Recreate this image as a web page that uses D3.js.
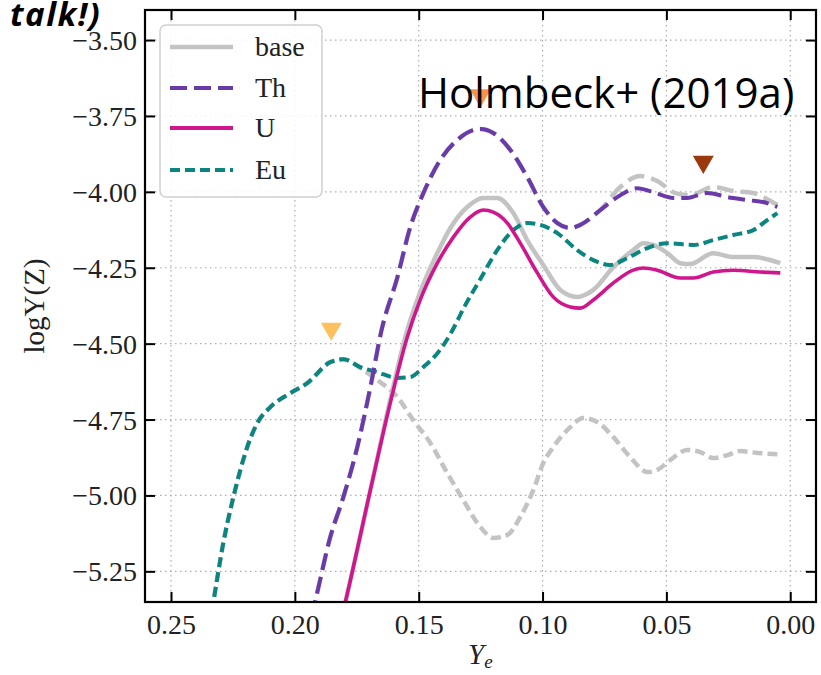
<!DOCTYPE html>
<html><head><meta charset="utf-8">
<script src="https://cdn.jsdelivr.net/npm/d3@7"></script>
<style>body{margin:0;background:#fff}svg{display:block}</style>
</head><body>
<svg id="chart" width="821" height="675"></svg>
<script>
// ---- data ----
const xTicks = [0.25, 0.20, 0.15, 0.10, 0.05, 0.00];
const yTicks = [-3.50, -3.75, -4.00, -4.25, -4.50, -4.75, -5.00, -5.25];

const ye_Eu = [0.2355,0.2329,0.2289,0.2248,0.2220,0.2200,0.2152,0.2099,0.2018,0.1950,0.1857,0.1804,0.1736,0.1667,0.1586,0.1534,0.1481,0.1421,0.1372,0.1312,0.1251,0.1183,0.1118,0.1062,0.1009,0.0940,0.0860,0.0795,0.0727,0.0658,0.0577,0.0496,0.0391,0.0311,0.0230,0.0149,0.0093,0.0052];
const logY_Eu = [-5.48,-5.351,-5.157,-5.005,-4.916,-4.860,-4.762,-4.709,-4.663,-4.630,-4.561,-4.551,-4.577,-4.594,-4.613,-4.610,-4.577,-4.528,-4.468,-4.373,-4.287,-4.192,-4.126,-4.103,-4.109,-4.136,-4.192,-4.225,-4.241,-4.218,-4.185,-4.169,-4.175,-4.159,-4.142,-4.126,-4.093,-4.070];

const ye_baseEu = [0.2355,0.2329,0.2289,0.2248,0.2220,0.2200,0.2152,0.2099,0.2018,0.1950,0.1857,0.1804,0.1736,0.1667,0.1586,0.1522,0.1453,0.1385,0.1320,0.1251,0.1199,0.1142,0.1090,0.1037,0.0997,0.0957,0.0888,0.0836,0.0779,0.0714,0.0646,0.0577,0.0537,0.0484,0.0416,0.0363,0.0311,0.0254,0.0202,0.0133,0.0052];
const logY_baseEu = [-5.48,-5.351,-5.157,-5.005,-4.916,-4.860,-4.762,-4.709,-4.663,-4.630,-4.561,-4.551,-4.580,-4.620,-4.676,-4.752,-4.827,-4.926,-5.015,-5.104,-5.140,-5.130,-5.071,-4.982,-4.893,-4.841,-4.775,-4.745,-4.758,-4.808,-4.874,-4.923,-4.916,-4.883,-4.850,-4.857,-4.877,-4.867,-4.854,-4.860,-4.864];

const ye_Th = [0.1958,0.1917,0.1857,0.1804,0.1748,0.1695,0.1651,0.1586,0.1534,0.1481,0.1413,0.1344,0.1251,0.1199,0.1130,0.1062,0.0997,0.0940,0.0888,0.0848,0.0767,0.0686,0.0618,0.0553,0.0472,0.0416,0.0335,0.0254,0.0173,0.0093,0.0052];
const logY_Th = [-5.476,-5.345,-5.137,-5.005,-4.841,-4.643,-4.459,-4.281,-4.116,-4.004,-3.895,-3.829,-3.793,-3.806,-3.862,-3.951,-4.050,-4.103,-4.119,-4.109,-4.060,-4.011,-3.988,-4.001,-4.020,-4.020,-4.004,-4.017,-4.027,-4.037,-4.050];

const ye_baseTh = [0.1958,0.1917,0.1857,0.1804,0.1748,0.1695,0.1651,0.1586,0.1534,0.1481,0.1413,0.1344,0.1251,0.1199,0.1130,0.1062,0.0997,0.0940,0.0888,0.0848,0.0767,0.0686,0.0605,0.0537,0.0464,0.0404,0.0311,0.0230,0.0149,0.0093,0.0052];
const logY_baseTh = [-5.476,-5.345,-5.137,-5.005,-4.841,-4.643,-4.459,-4.281,-4.116,-4.004,-3.895,-3.829,-3.793,-3.806,-3.862,-3.951,-4.050,-4.103,-4.119,-4.109,-4.060,-3.984,-3.948,-3.964,-4.004,-4.011,-3.984,-3.997,-4.004,-4.024,-4.043];

const ye_U = [0.1833,0.1796,0.1695,0.1615,0.1546,0.1494,0.1425,0.1360,0.1292,0.1239,0.1199,0.1142,0.1090,0.1021,0.0957,0.0888,0.0848,0.0795,0.0714,0.0634,0.0593,0.0537,0.0444,0.0391,0.0311,0.0230,0.0121,0.0040];
const logY_U = [-5.476,-5.351,-4.982,-4.696,-4.478,-4.356,-4.235,-4.149,-4.083,-4.060,-4.067,-4.103,-4.169,-4.267,-4.346,-4.379,-4.383,-4.356,-4.300,-4.258,-4.251,-4.258,-4.284,-4.284,-4.264,-4.258,-4.264,-4.267];

const ye_baseU = [0.1833,0.1796,0.1695,0.1615,0.1546,0.1494,0.1425,0.1372,0.1304,0.1239,0.1183,0.1118,0.1062,0.0997,0.0928,0.0860,0.0795,0.0714,0.0634,0.0593,0.0553,0.0496,0.0444,0.0404,0.0311,0.0230,0.0149,0.0040];
const logY_baseU = [-5.476,-5.351,-4.982,-4.686,-4.455,-4.330,-4.202,-4.119,-4.050,-4.020,-4.020,-4.070,-4.159,-4.241,-4.323,-4.346,-4.323,-4.248,-4.192,-4.169,-4.175,-4.202,-4.235,-4.238,-4.202,-4.215,-4.215,-4.235];

const markerYe = [0.1853, 0.1251, 0.0351];
const markerLogY = [-4.451, -3.682, -3.901];
const markerColors = ["#fdc05e", "#f8944a", "#9a3a0c"];

const legendLabels = ["base", "Th", "U", "Eu"];

// ---- layout ----
const svg = d3.select("#chart");
const L = 145, R = 816, T = 10, B = 602;
const x = d3.scaleLinear().domain([0.2605, -0.0104]).range([L, R]);
const y = d3.scaleLinear().domain([-3.401, -5.351]).range([T, B]);
const serif = "'Liberation Serif', 'DejaVu Serif', serif";

// grid
const grid = svg.append("g");
grid.selectAll(".gx").data(xTicks).join("line")
  .attr("x1", d => x(d)).attr("x2", d => x(d)).attr("y1", T).attr("y2", B)
  .attr("stroke", "#acacac").attr("stroke-width", 1.2).attr("stroke-dasharray", "1.5,3.5");
grid.selectAll(".gy").data(yTicks).join("line")
  .attr("y1", d => y(d)).attr("y2", d => y(d)).attr("x1", L).attr("x2", R)
  .attr("stroke", "#acacac").attr("stroke-width", 1.2).attr("stroke-dasharray", "1.5,3.5");

// clip
svg.append("clipPath").attr("id", "clip").append("rect")
  .attr("x", L).attr("y", T).attr("width", R - L).attr("height", B - T);

const line = d3.line().x(d => x(d[0])).y(d => y(d[1])).curve(d3.curveMonotoneX);
const zip = (a, b) => a.map((v, i) => [v, b[i]]);

const series = [
  {xs: ye_baseEu, ys: logY_baseEu, color: "#c3c3c3", w: 4.5, dash: "10,5"},
  {xs: ye_baseTh, ys: logY_baseTh, color: "#c3c3c3", w: 4.5, dash: "17,7"},
  {xs: ye_baseU, ys: logY_baseU, color: "#c3c3c3", w: 4.5, dash: null},
  {xs: ye_Eu, ys: logY_Eu, color: "#0a8580", w: 4, dash: "10,5"},
  {xs: ye_Th, ys: logY_Th, color: "#6a3aaa", w: 4, dash: "17,7"},
  {xs: ye_U, ys: logY_U, color: "#cf168d", w: 3.6, dash: null}
];
const plot = svg.append("g").attr("clip-path", "url(#clip)");
series.forEach(s => {
  plot.append("path").datum(zip(s.xs, s.ys))
    .attr("d", line).attr("fill", "none")
    .attr("stroke", s.color).attr("stroke-width", s.w)
    .attr("stroke-dasharray", s.dash);
});

// markers
const tri = d3.symbol().type(d3.symbolTriangle).size(190);
svg.append("g").selectAll("path").data(markerYe).join("path")
  .attr("d", tri)
  .attr("transform", (d, i) => `translate(${x(d)},${y(markerLogY[i])}) rotate(180)`)
  .attr("fill", (d, i) => markerColors[i]);

// axes (inward ticks on all sides)
const fmt = d3.format(".2f");
const axL = svg.append("g").attr("transform", `translate(${L},0)`)
  .call(d3.axisLeft(y).tickValues(yTicks).tickSize(-10).tickPadding(8).tickFormat(fmt));
const axB = svg.append("g").attr("transform", `translate(0,${B})`)
  .call(d3.axisBottom(x).tickValues(xTicks).tickSize(-10).tickPadding(12).tickFormat(fmt));
const axR = svg.append("g").attr("transform", `translate(${R},0)`)
  .call(d3.axisRight(y).tickValues(yTicks).tickSize(-10).tickFormat(""));
const axT = svg.append("g").attr("transform", `translate(0,${T})`)
  .call(d3.axisTop(x).tickValues(xTicks).tickSize(-10).tickFormat(""));
[axL, axB, axR, axT].forEach(a => {
  a.attr("font-family", serif);
  a.select(".domain").remove();
  a.selectAll(".tick line").attr("stroke", "#000").attr("stroke-width", 2);
  a.selectAll("text").style("font-family", serif).attr("font-size", 28).attr("fill", "#222");
});
axL.selectAll("text").attr("dy", "0.34em");
axB.selectAll("text").attr("y", 32).attr("dy", 0);

// frame
svg.append("rect").attr("x", L).attr("y", T).attr("width", R - L).attr("height", B - T)
  .attr("fill", "none").attr("stroke", "#000").attr("stroke-width", 2.2);

// axis labels
svg.append("text").attr("transform", `translate(44,${(T + B) / 2}) rotate(-90)`)
  .attr("text-anchor", "middle").style("font-family", serif).attr("font-size", 29).attr("fill", "#222")
  .text("logY(Z)");
const xl = svg.append("text").attr("x", 468).attr("y", 664)
  .style("font-family", serif).attr("font-size", 29).attr("fill", "#222");
xl.append("tspan").attr("font-style", "italic").text("Y");
xl.append("tspan").attr("font-style", "italic").attr("font-size", 19).attr("dy", 4).text("e");

// legend
const lg = svg.append("g");
lg.append("rect").attr("x", 160).attr("y", 25).attr("width", 162).attr("height", 172).attr("rx", 6)
  .attr("fill", "#fff").attr("fill-opacity", 0.85).attr("stroke", "#d0d0d0").attr("stroke-width", 1.5);
const legendStyle = [
  {color: "#c3c3c3", w: 4.5, dash: null},
  {color: "#6a3aaa", w: 4, dash: "17,7"},
  {color: "#cf168d", w: 4, dash: null},
  {color: "#0a8580", w: 4, dash: "10,5"}
];
const legendY = [47, 88, 128, 170];
legendLabels.forEach((lab, i) => {
  lg.append("line").attr("x1", 170).attr("x2", 233).attr("y1", legendY[i]).attr("y2", legendY[i])
    .attr("stroke", legendStyle[i].color).attr("stroke-width", legendStyle[i].w)
    .attr("stroke-dasharray", legendStyle[i].dash);
  lg.append("text").attr("x", 255).attr("y", legendY[i] + 9)
    .style("font-family", serif).attr("font-size", 28).attr("fill", "#222").text(lab);
});

// annotations
svg.append("text").attr("x", 418).attr("y", 108)
  .style("font-family", "'Open Sans', sans-serif").attr("font-size", 42).attr("fill", "#000")
  .text("Holmbeck+ (2019a)");
svg.append("text").attr("x", 10).attr("y", 26)
  .style("font-family", "'Open Sans', sans-serif").attr("font-size", 33).attr("font-weight", "bold")
  .attr("letter-spacing", 1.5)
  .attr("font-style", "italic").attr("fill", "#000").text("talk!)");
</script>
</body></html>
